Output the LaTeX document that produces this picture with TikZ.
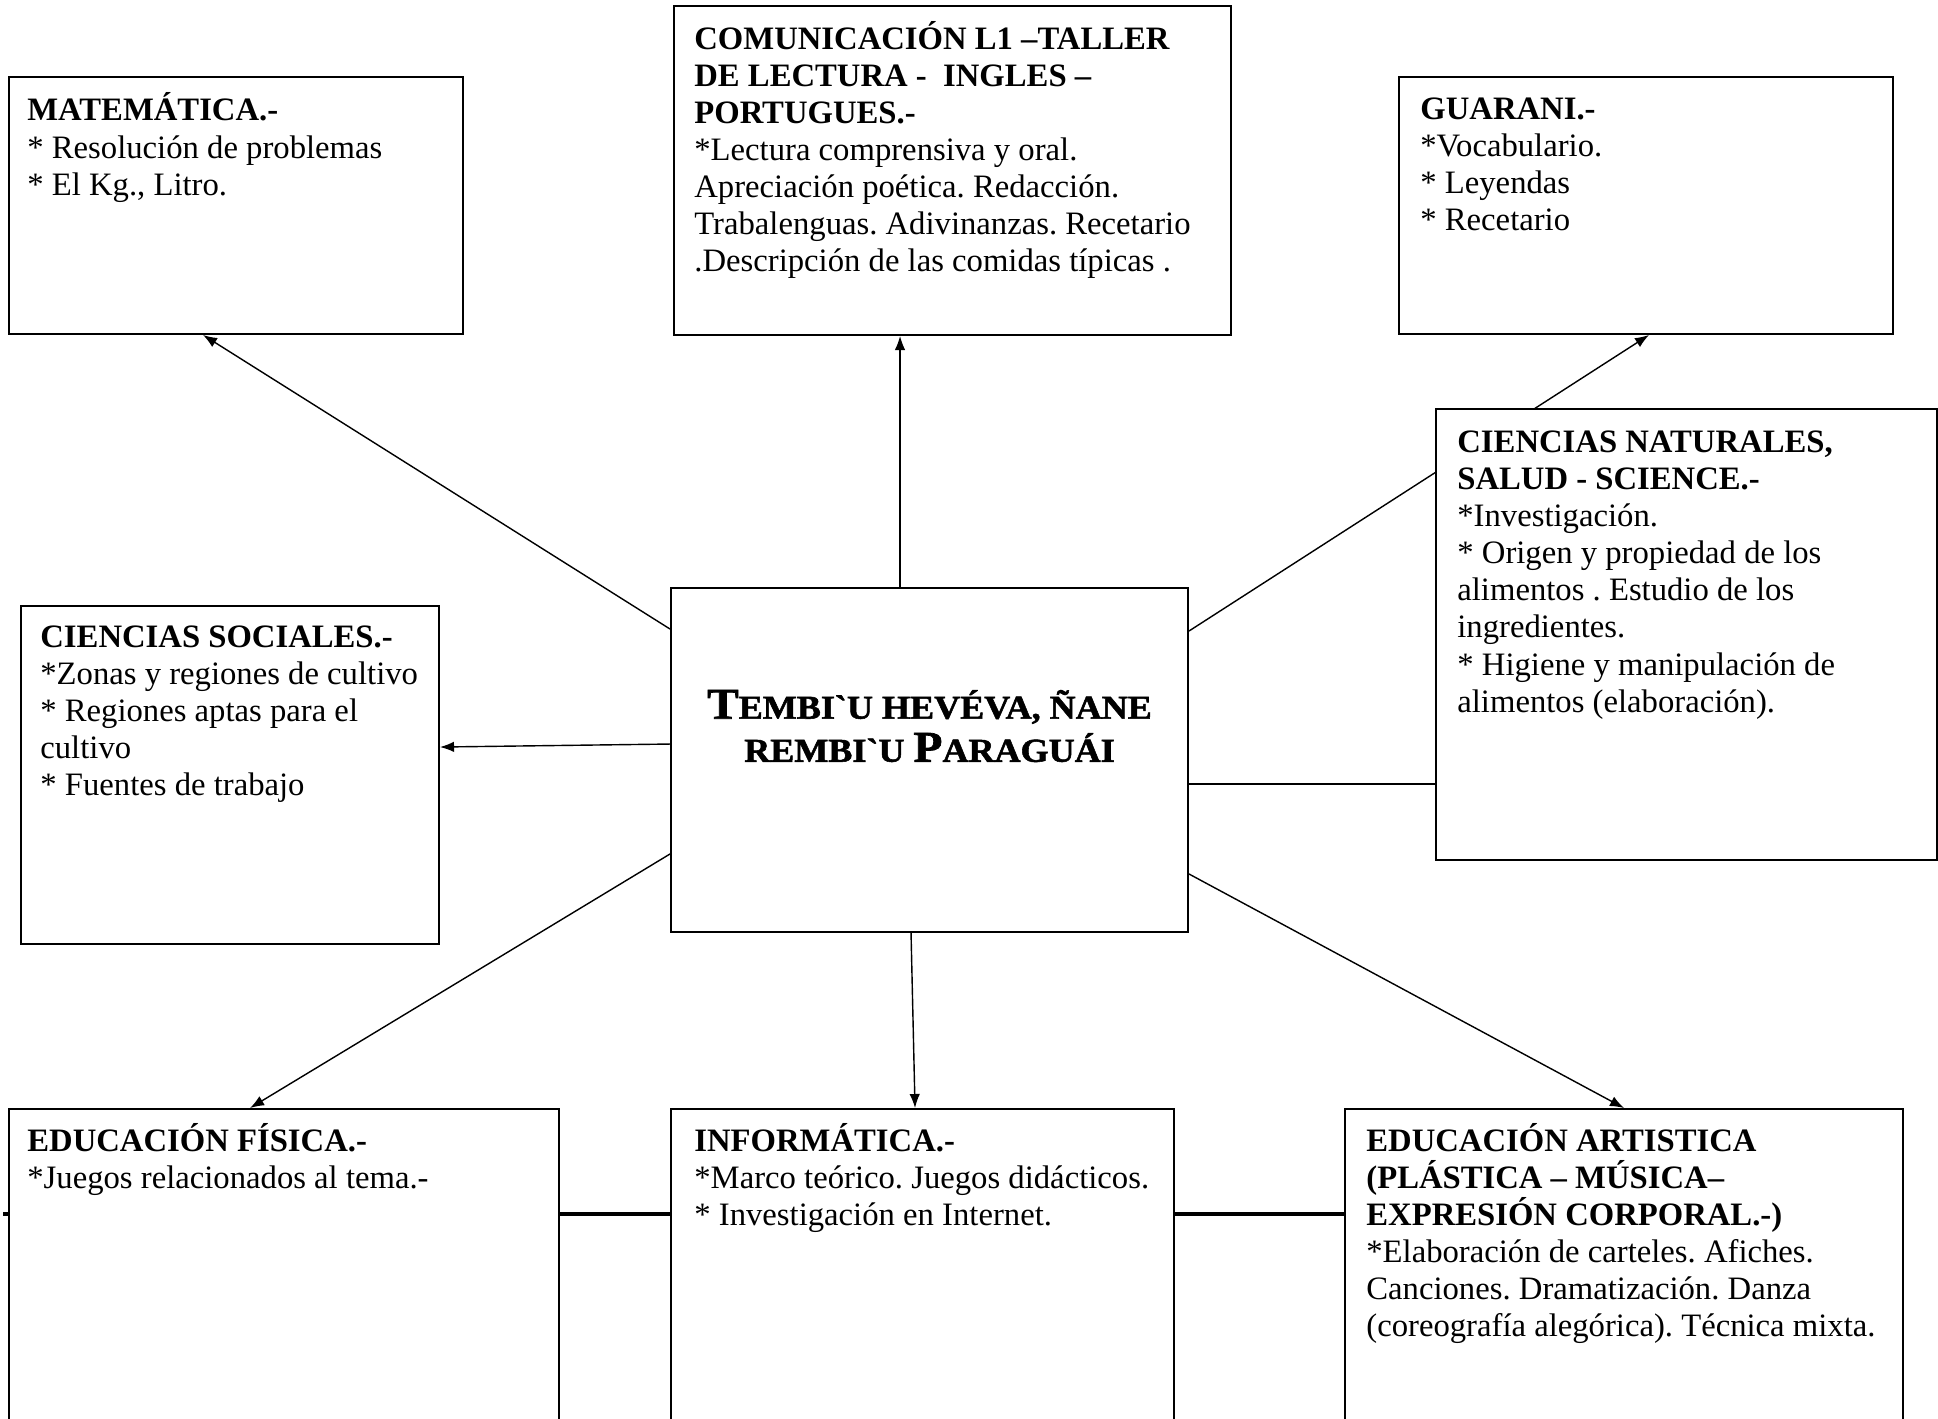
\documentclass[tikz,border=0pt]{standalone}
\usepackage{fontspec}
\setmainfont{Liberation Serif}
\newfontfamily\engrave[FakeStretch=1.08,FakeBold=1.6]{Liberation Serif Bold}
\usetikzlibrary{positioning,arrows.meta,backgrounds}
\frenchspacing
\newcommand\capbig[1]{{\fontsize{25}{25}\selectfont #1}}
\tikzset{
  box/.style={draw, fill=white, line width=1.1pt, inner sep=0pt},
  txt/.style={align=left, inner sep=0pt, font=\fontsize{18.6}{21.1}\selectfont,
    execute at begin node=\strut},
  link/.style={line width=0.8pt},
  arrow/.style={link, -{Latex[length=8pt,width=6pt]}},
  bar/.style={line width=2.4pt},
}
\begin{document}
\begin{tikzpicture}
  \useasboundingbox (0,0) rectangle (38.76,-28.38);
  \node[box, minimum width=10.34cm, minimum height=6.88cm] (cen) at (18.59,-15.20) {};
  \node[box, minimum width=9.08cm, minimum height=5.14cm] (mat) at (4.72,-4.11) {};
  \node[box, minimum width=11.14cm, minimum height=6.58cm] (com) at (19.05,-3.41) {};
  \node[box, minimum width=9.88cm, minimum height=5.14cm] (gua) at (32.92,-4.11) {};
  \node[box, minimum width=10.02cm, minimum height=9.02cm] (cn) at (33.73,-12.69) {};
  \node[box, minimum width=8.36cm, minimum height=6.76cm] (cs) at (4.60,-15.50) {};
  \node[box, minimum width=11.00cm, minimum height=6.62cm] (ef) at (5.68,-25.49) {};
  \node[box, minimum width=10.06cm, minimum height=6.62cm] (inf) at (18.45,-25.49) {};
  \node[box, minimum width=11.16cm, minimum height=6.62cm] (art) at (32.48,-25.49) {};

  \node[align=center, inner sep=0pt, font=\engrave\fontsize{19}{24.5}\selectfont]
    (tema) at ([yshift=0.68cm]cen.center)
    {\capbig{T}EMBI`U HEVÉVA, ÑANE\\REMBI`U \capbig{P}ARAGUÁI};

  \node[txt, below right=0.33cm and 0.38cm of mat.north west] (mattxt)
    {\textbf{MATEMÁTICA.-}\\{}* Resolución de problemas\\{}* El Kg., Litro.};
  \node[txt, below right=0.32cm and 0.42cm of com.north west] (comtxt)
    {\textbf{COMUNICACIÓN L1 –TALLER}\\\textbf{DE LECTURA -\ \ INGLES –}\\\textbf{PORTUGUES.-}\\
     {}*Lectura comprensiva y oral.\\Apreciación poética. Redacción.\\
     Trabalenguas. Adivinanzas. Recetario\\.Descripción de las comidas típicas .};
  \node[txt, below right=0.43cm and 0.44cm of gua.north west] (guatxt)
    {\textbf{GUARANI.-}\\{}*Vocabulario.\\{}* Leyendas\\{}* Recetario};
  \node[txt, below right=0.45cm and 0.44cm of cn.north west] (cntxt)
    {\textbf{CIENCIAS NATURALES,}\\\textbf{SALUD - SCIENCE.-}\\{}*Investigación.\\
     {}* Origen y propiedad de los\\alimentos . Estudio de los\\ingredientes.\\
     {}* Higiene y manipulación de\\alimentos (elaboración).};
  \node[txt, below right=0.41cm and 0.40cm of cs.north west] (cstxt)
    {\textbf{CIENCIAS SOCIALES.-}\\{}*Zonas y regiones de cultivo\\{}* Regiones aptas para el\\
     cultivo\\{}* Fuentes de trabajo};
  \node[txt, below right=0.30cm and 0.38cm of ef.north west] (eftxt)
    {\textbf{EDUCACIÓN FÍSICA.-}\\{}*Juegos relacionados al tema.-};
  \node[txt, below right=0.30cm and 0.48cm of inf.north west] (inftxt)
    {\textbf{INFORMÁTICA.-}\\{}*Marco teórico. Juegos didácticos.\\{}* Investigación en Internet.};
  \node[txt, below right=0.30cm and 0.44cm of art.north west] (arttxt)
    {\textbf{EDUCACIÓN ARTISTICA}\\\textbf{(PLÁSTICA – MÚSICA–}\\\textbf{EXPRESIÓN CORPORAL.-)}\\
     {}*Elaboración de carteles. Afiches.\\Canciones. Dramatización. Danza\\
     (coreografía alegórica). Técnica mixta.};

  \coordinate (cnlink) at ([yshift=-3.94cm]cen.north east);
  \coordinate (comlink) at ([xshift=4.6cm]cen.north west);
  \begin{pgfonlayer}{background}
    \fill[white] (0,0) rectangle (38.76,-28.38);
    \draw[bar] ([xshift=-0.1cm,yshift=-2.12cm]ef.north west) -- ([yshift=-2.12cm]art.north west);
    \draw[link] (cnlink) -- (cnlink -| cn.west);
    \begin{scope}[arrow]
      \draw ([yshift=-0.84cm]cen.north west) -- ([xshift=3.9cm]mat.south west);
      \draw (comlink) -- (comlink |- com.south);
      \draw ([yshift=-0.88cm]cen.north east) -- ([xshift=5.02cm]gua.south west);
      \draw ([yshift=-3.14cm]cen.north west) -- ([yshift=-2.84cm]cs.north east);
      \draw ([yshift=1.58cm]cen.south west) -- ([xshift=4.84cm]ef.north west);
      \draw ([xshift=4.82cm]cen.south west) -- ([xshift=4.9cm]inf.north west);
      \draw ([yshift=1.18cm]cen.south east) -- ([xshift=5.6cm]art.north west);
    \end{scope}
  \end{pgfonlayer}
\end{tikzpicture}
\end{document}
